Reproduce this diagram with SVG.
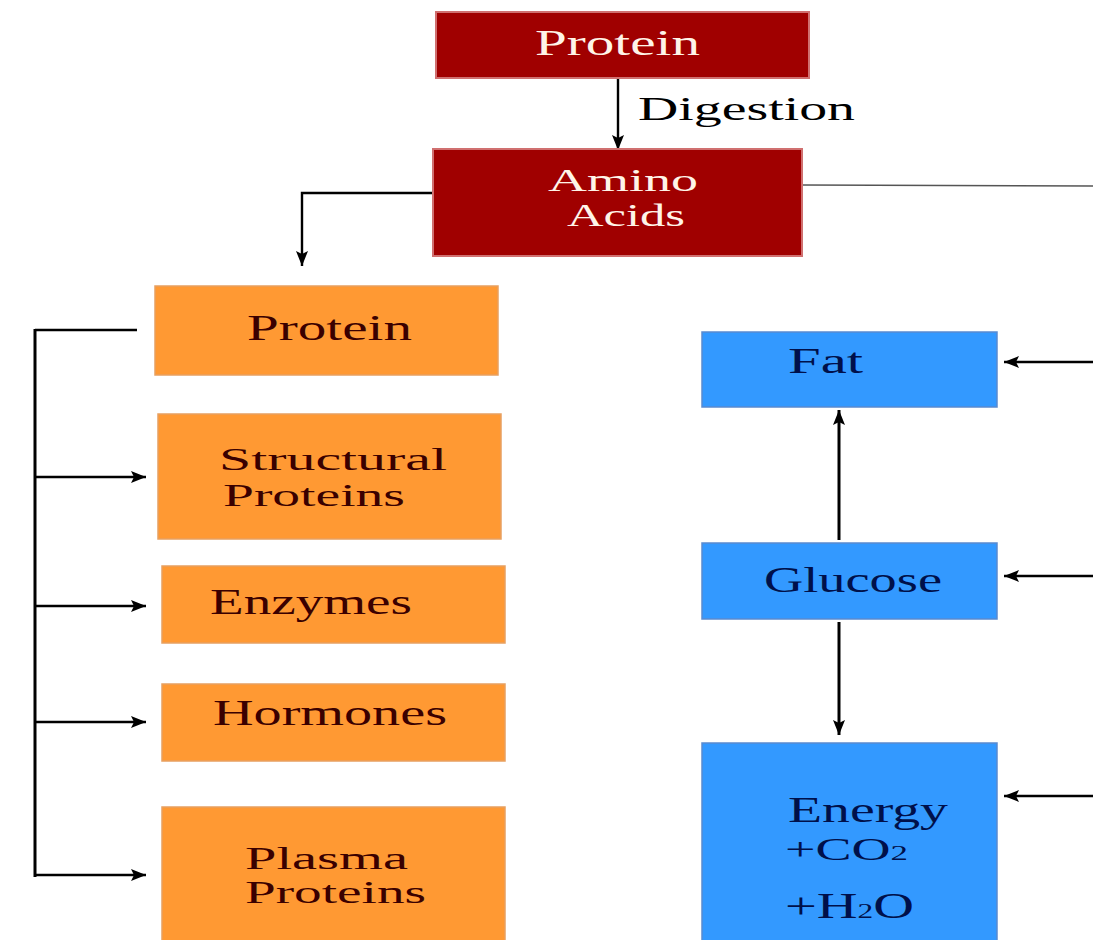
<svg xmlns="http://www.w3.org/2000/svg" width="1093" height="940" viewBox="0 0 1093 940">
<style>
.red{fill:#A00000;stroke:#D07070;stroke-width:2}
.org{fill:#FF9933;stroke:#E8A060;stroke-width:1.5}
.blu{fill:#3399FF;stroke:#5A8ACF;stroke-width:1.5}
text{font-family:"Liberation Serif","Times New Roman",serif;font-size:36px}
.two{font-size:31px}
.tw{fill:#FFF4E8}
.tm{fill:#3A0000}
.tn{fill:#00104A}
.tk{fill:#000000;font-size:34px}
.ln{fill:none;stroke:#000;stroke-width:2.4}
.thick{stroke-width:3}
.grey{fill:none;stroke:#555;stroke-width:1.6}
</style>
<defs>
<marker id="ah" markerUnits="userSpaceOnUse" markerWidth="18" markerHeight="14" refX="15" refY="6" orient="auto">
<path d="M0,0 L15,6 L0,12 L3,6 z" fill="#000"/>
</marker>
</defs>
<rect width="1093" height="940" fill="#FFFFFF"/>
<g id="connectors">
<line class="ln" x1="618" y1="78" x2="618" y2="150" marker-end="url(#ah)"/>
<polyline class="ln" points="433,193 302,193 302,266" marker-end="url(#ah)"/>
<line class="grey" x1="802" y1="185" x2="1093" y2="186"/>
<line class="ln thick" x1="35" y1="329" x2="35" y2="877"/>
<line class="ln" x1="35" y1="330" x2="137" y2="330"/>
<line class="ln" x1="35" y1="477" x2="146" y2="477" marker-end="url(#ah)"/>
<line class="ln" x1="35" y1="606" x2="146" y2="606" marker-end="url(#ah)"/>
<line class="ln" x1="35" y1="722" x2="146" y2="722" marker-end="url(#ah)"/>
<line class="ln" x1="35" y1="875" x2="146" y2="875" marker-end="url(#ah)"/>
<line class="ln" x1="1093" y1="362" x2="1004" y2="362" marker-end="url(#ah)"/>
<line class="ln" x1="1093" y1="576" x2="1004" y2="576" marker-end="url(#ah)"/>
<line class="ln" x1="1093" y1="796" x2="1004" y2="796" marker-end="url(#ah)"/>
<line class="ln thick" x1="839" y1="540" x2="839" y2="410" marker-end="url(#ah)"/>
<line class="ln thick" x1="839" y1="622" x2="839" y2="735" marker-end="url(#ah)"/>
</g>
<g id="digestion-label">
<text class="tk" x="638" y="120" textLength="217" lengthAdjust="spacingAndGlyphs">Digestion</text>
</g>
<g id="protein-top">
<rect class="red" x="436" y="12" width="373" height="66"/>
<text class="tw" x="535" y="55" textLength="165" lengthAdjust="spacingAndGlyphs">Protein</text>
</g>
<g id="amino-acids">
<rect class="red" x="433" y="149" width="369" height="107"/>
<text class="tw two" x="548" y="191" textLength="150" lengthAdjust="spacingAndGlyphs">Amino</text>
<text class="tw two" x="567" y="226" textLength="118" lengthAdjust="spacingAndGlyphs">Acids</text>
</g>
<g id="protein">
<rect class="org" x="155" y="286" width="343" height="89"/>
<text class="tm" x="247" y="340" textLength="165" lengthAdjust="spacingAndGlyphs">Protein</text>
</g>
<g id="structural-proteins">
<rect class="org" x="158" y="414" width="343" height="125"/>
<text class="tm two" x="219" y="470" textLength="228" lengthAdjust="spacingAndGlyphs">Structural</text>
<text class="tm two" x="223" y="506" textLength="182" lengthAdjust="spacingAndGlyphs">Proteins</text>
</g>
<g id="enzymes">
<rect class="org" x="162" y="566" width="343" height="77"/>
<text class="tm" x="210" y="614" textLength="202" lengthAdjust="spacingAndGlyphs">Enzymes</text>
</g>
<g id="hormones">
<rect class="org" x="162" y="684" width="343" height="77"/>
<text class="tm" x="213" y="725" textLength="234" lengthAdjust="spacingAndGlyphs">Hormones</text>
</g>
<g id="plasma-proteins">
<rect class="org" x="162" y="807" width="343" height="140"/>
<text class="tm two" x="245" y="869" textLength="163" lengthAdjust="spacingAndGlyphs">Plasma</text>
<text class="tm two" x="245" y="903" textLength="181" lengthAdjust="spacingAndGlyphs">Proteins</text>
</g>
<g id="fat">
<rect class="blu" x="702" y="332" width="295" height="75"/>
<text class="tn" x="788" y="373" textLength="75" lengthAdjust="spacingAndGlyphs">Fat</text>
</g>
<g id="glucose">
<rect class="blu" x="702" y="543" width="295" height="76"/>
<text class="tn" x="764" y="592" textLength="178" lengthAdjust="spacingAndGlyphs">Glucose</text>
</g>
<g id="energy">
<rect class="blu" x="702" y="743" width="295" height="204"/>
<text class="tn" x="788" y="822" textLength="160" lengthAdjust="spacingAndGlyphs">Energy</text>
<text class="tn two" x="785" y="860" textLength="123" lengthAdjust="spacingAndGlyphs">+CO<tspan font-size="20">2</tspan></text>
<text class="tn" x="785" y="918" textLength="129" lengthAdjust="spacingAndGlyphs">+H<tspan font-size="20">2</tspan>O</text>
</g>
</svg>
